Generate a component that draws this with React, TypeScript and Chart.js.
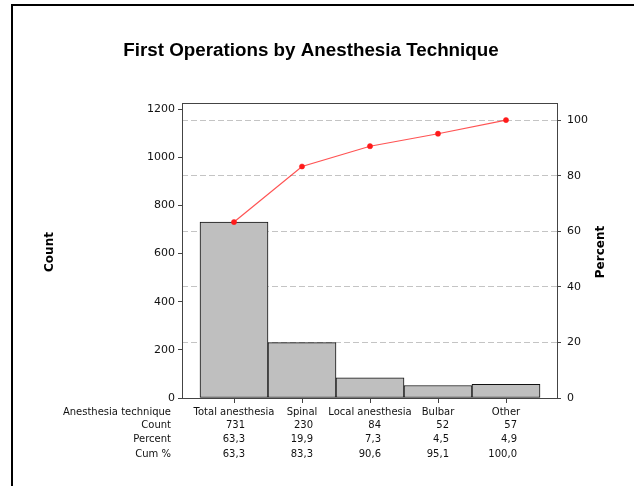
import React, { useEffect, useRef } from "react";
import { Chart, registerables } from "chart.js";

Chart.register(...registerables);

const TITLE = "First Operations by Anesthesia Technique";
const LEFT_AXIS_TITLE = "Count";
const RIGHT_AXIS_TITLE = "Percent";
const CATEGORIES = ["Total anesthesia", "Spinal", "Local anesthesia", "Bulbar", "Other"];
const COUNTS = [731, 230, 84, 52, 57];
const PERCENTS = [63.3, 19.9, 7.3, 4.5, 4.9];
const CUM_PERCENTS = [63.3, 83.3, 90.6, 95.1, 100.0];
const COUNT_TICKS = [0, 200, 400, 600, 800, 1000, 1200];
const PERCENT_TICKS = [0, 20, 40, 60, 80, 100];
const TABLE_HEADERS = ["Anesthesia technique", "Count", "Percent", "Cum %"];

const W = 634;
const H = 486;
const COUNT_MAX = 1225;
const TOTAL = COUNTS.reduce((a, b) => a + b, 0);
const PCT_MAX = (COUNT_MAX / TOTAL) * 100;
const X_MIN = -52 / 68;
const X_MAX = 323 / 68;

const fmt = (v: number) => v.toFixed(1).replace(".", ",");

const decorPlugin = {
  id: "decor",
  afterDraw(chart: any) {
    const ctx = chart.ctx as CanvasRenderingContext2D;
    const area = chart.chartArea;
    const xs = chart.scales.x;
    ctx.save();

    // outer frame (top + left)
    ctx.strokeStyle = "#000";
    ctx.lineWidth = 2;
    ctx.beginPath();
    ctx.moveTo(12, H);
    ctx.lineTo(12, 5);
    ctx.lineTo(W, 5);
    ctx.stroke();

    // top border of plot area
    ctx.strokeStyle = "#444";
    ctx.lineWidth = 1;
    ctx.beginPath();
    ctx.moveTo(area.left, area.top + 0.5);
    ctx.lineTo(area.right, area.top + 0.5);
    ctx.stroke();

    // title
    ctx.fillStyle = "#000";
    ctx.font = "bold 18.8px 'Liberation Sans', Arial, sans-serif";
    ctx.textAlign = "center";
    ctx.textBaseline = "middle";
    ctx.fillText(TITLE, 311, 51);

    // axis titles
    ctx.font = "bold 12px 'DejaVu Sans', sans-serif";
    ctx.save();
    ctx.translate(50, 252);
    ctx.rotate(-Math.PI / 2);
    ctx.fillText(LEFT_AXIS_TITLE, 0, 0);
    ctx.restore();
    ctx.save();
    ctx.translate(601, 252);
    ctx.rotate(-Math.PI / 2);
    ctx.fillText(RIGHT_AXIS_TITLE, 0, 0);
    ctx.restore();

    // table under the chart
    const rowsY = [412, 425.5, 439.5, 454];
    ctx.font = "10px 'DejaVu Sans', sans-serif";
    ctx.fillStyle = "#111";
    ctx.textAlign = "right";
    TABLE_HEADERS.forEach((h, r) => ctx.fillText(h, 171, rowsY[r]));
    CATEGORIES.forEach((c, i) => {
      const cx = xs.getPixelForValue(i);
      ctx.textAlign = "center";
      ctx.fillText(c, cx, rowsY[0]);
      ctx.textAlign = "right";
      const rx = cx + 11;
      ctx.fillText(String(COUNTS[i]), rx, rowsY[1]);
      ctx.fillText(fmt(PERCENTS[i]), rx, rowsY[2]);
      ctx.fillText(fmt(CUM_PERCENTS[i]), rx, rowsY[3]);
    });
    ctx.restore();
  },
};

export default function App() {
  const ref = useRef<HTMLCanvasElement | null>(null);

  useEffect(() => {
    if (!ref.current) return;
    const tickFont = { family: "'DejaVu Sans', sans-serif", size: 11 };
    const chart = new Chart(ref.current, {
      type: "bar",
      data: {
        datasets: [
          {
            type: "line",
            data: CUM_PERCENTS.map((v, i) => ({ x: i, y: v })),
            yAxisID: "yR",
            xAxisID: "x",
            borderColor: "rgba(255,40,40,0.8)",
            borderWidth: 1.2,
            pointRadius: 2.6,
            pointBackgroundColor: "#ff1a1a",
            pointBorderColor: "#ff1a1a",
            pointBorderWidth: 0.5,
            order: 0,
          } as any,
          {
            type: "bar",
            data: COUNTS.map((v, i) => ({ x: i, y: v })),
            yAxisID: "y",
            xAxisID: "x",
            backgroundColor: "#bfbfbf",
            borderColor: "#111",
            borderWidth: 1,
            borderSkipped: false,
            barPercentage: 1,
            categoryPercentage: 1,
            order: 1,
          } as any,
        ],
      },
      options: {
        animation: false,
        responsive: false,
        layout: { padding: { top: 103, left: 0, right: 0, bottom: 0 } },
        plugins: { legend: { display: false }, tooltip: { enabled: false }, title: { display: false } },
        scales: {
          x: {
            type: "linear",
            offset: false,
            min: X_MIN,
            max: X_MAX,
            afterBuildTicks: (s: any) => {
              s.ticks = CATEGORIES.map((_, i) => ({ value: i }));
            },
            afterFit: (s: any) => {
              s.height = 88;
            },
            grid: { offset: false, drawOnChartArea: false, tickLength: 5, color: "#444" },
            border: { color: "#444", width: 1 },
            ticks: { display: false },
          },
          y: {
            type: "linear",
            position: "left",
            min: 0,
            max: COUNT_MAX,
            afterBuildTicks: (s: any) => {
              s.ticks = COUNT_TICKS.map((v) => ({ value: v }));
            },
            afterFit: (s: any) => {
              s.width = 182;
            },
            grid: { drawOnChartArea: false, tickLength: 4, color: "#444" },
            border: { color: "#444", width: 1 },
            ticks: { font: tickFont, color: "#111", padding: 3, callback: (v: any) => String(v) },
          },
          yR: {
            type: "linear",
            position: "right",
            min: 0,
            max: PCT_MAX,
            afterBuildTicks: (s: any) => {
              s.ticks = PERCENT_TICKS.map((v) => ({ value: v }));
            },
            afterFit: (s: any) => {
              s.width = W - 557;
            },
            grid: { drawOnChartArea: true, tickLength: 4, color: "#c4c4c4", tickColor: "#444" },
            border: { color: "#444", width: 1, dash: [6, 3] },
            ticks: { font: tickFont, color: "#111", padding: 6, callback: (v: any) => String(v) },
          },
        },
      } as any,
      plugins: [decorPlugin],
    });
    return () => chart.destroy();
  }, []);

  return (
    <div style={{ position: "fixed", left: 0, top: 0, width: W, height: H, background: "#fff" }}>
      <canvas ref={ref} width={W} height={H} style={{ display: "block", width: W, height: H }} />
    </div>
  );
}
